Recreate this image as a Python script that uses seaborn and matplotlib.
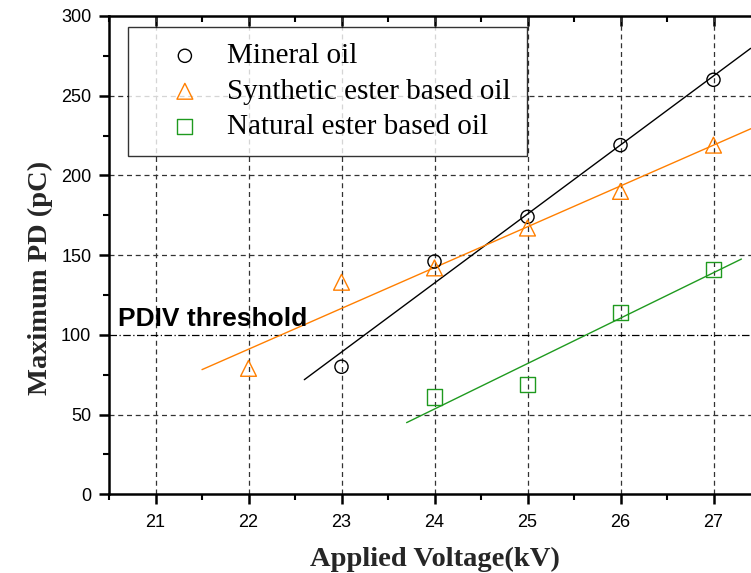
import numpy as np
import pandas as pd
import matplotlib
matplotlib.use("Agg")
import matplotlib.pyplot as plt
import seaborn as sns
from matplotlib.ticker import MultipleLocator

# ---- data ----
mineral_x = [23, 24, 25, 26, 27]
mineral_y = [80, 146, 174, 219, 260]
synthetic_x = [22, 23, 24, 25, 26, 27]
synthetic_y = [79, 133, 142, 167, 190, 219]
natural_x = [24, 25, 26, 27]
natural_y = [61, 69, 114, 141]
series_names = ["Mineral oil", "Synthetic ester based oil", "Natural ester based oil"]
x_ticks = [21, 22, 23, 24, 25, 26, 27]
y_ticks = [0, 50, 100, 150, 200, 250, 300]
pdiv_threshold = 100

colors = ["black", "#FF7F00", "#1F9A1F"]
markers = ["o", "^", "s"]
marker_sizes = [90, 130, 120]

sns.set_theme(style="white")
plt.rcParams["font.family"] = ["Liberation Sans", "DejaVu Sans"]

fig = plt.figure(figsize=(7.51, 5.73), dpi=100)
ax = fig.add_axes([109 / 751, (573 - 494.3) / 573, 7 * 93 / 751, (494.3 - 16) / 573])

series = [(mineral_x, mineral_y), (synthetic_x, synthetic_y), (natural_x, natural_y)]
for (xs, ys), name, c, m, ms in zip(series, series_names, colors, markers, marker_sizes):
    df = pd.DataFrame({"x": xs, "y": ys})
    sns.scatterplot(data=df, x="x", y="y", ax=ax, marker=m, s=ms,
                    facecolor="none", edgecolor=c, linewidth=1.0, label=name, zorder=4)
    # linear fit line extended 10% of data range on both ends
    k, b = np.polyfit(xs, ys, 1)
    span = max(xs) - min(xs)
    fx = np.array([min(xs) - 0.1 * span, max(xs) + 0.1 * span])
    fit_df = pd.DataFrame({"x": fx, "y": k * fx + b})
    sns.lineplot(data=fit_df, x="x", y="y", ax=ax, color=c, linewidth=1.0,
                 legend=False, zorder=3)

# PDIV threshold line (dash-dot)
ax.axhline(pdiv_threshold, color="black", linestyle=(0, (6, 2, 1, 2)), linewidth=0.9, zorder=2)

ax.set_xlim(20.5, 27.5)
ax.set_ylim(0, 300)
ax.set_xticks(x_ticks)
ax.set_yticks(y_ticks)
ax.xaxis.set_minor_locator(MultipleLocator(0.5))
ax.yaxis.set_minor_locator(MultipleLocator(25))

# grid
for xv in x_ticks:
    ax.axvline(xv, color="#333333", linestyle=(0, (4, 3)), linewidth=0.9, zorder=1)
for yv in [50, 150, 200, 250]:
    ax.axhline(yv, color="#333333", linestyle=(0, (4, 3)), linewidth=0.9, zorder=1)

for side in ["left", "bottom", "top"]:
    ax.spines[side].set_linewidth(1.8)
    ax.spines[side].set_color("black")
ax.spines["right"].set_visible(False)

ax.tick_params(axis="both", which="major", direction="out", length=7.2, width=1.8,
               labelsize=13, colors="black", pad=5.5)
ax.tick_params(axis="both", which="minor", direction="out", length=4.3, width=1.5, colors="black")
ax.tick_params(axis="x", which="major", pad=7)
ax.tick_params(axis="x", which="both", top=True, bottom=True)
ax.tick_params(axis="y", which="both", left=True)
# top ticks point inward
for t in ax.xaxis.get_major_ticks():
    t.tick2line.set_marker(matplotlib.lines.TICKDOWN)
for t in ax.xaxis.get_minor_ticks():
    t.tick2line.set_marker(matplotlib.lines.TICKDOWN)

serif = ["Liberation Serif", "DejaVu Serif"]
ax.set_xlabel("Applied Voltage(kV)", fontsize=20.5, fontweight="bold",
              family=serif, labelpad=11.5)
ax.set_ylabel("Maximum PD (pC)", fontsize=20.5, fontweight="bold", family=serif)
ax.yaxis.set_label_coords(-0.086, 0.452)

ax.text(20.597, 105.6, "PDIV threshold", fontsize=19, fontweight="bold",
        ha="left", va="baseline", color="black")

leg = ax.legend(loc="upper left", bbox_to_anchor=(19 / 651, 1 - 11 / 478.3),
                prop={"family": "Liberation Serif", "size": 21},
                frameon=True, fancybox=False, edgecolor="black",
                borderpad=0.55, labelspacing=0.31, handletextpad=0.05, borderaxespad=0,
                markerscale=1.0, handlelength=2.8)
leg.get_frame().set_linewidth(1.0)
for t in leg.get_texts():
    t.set_color("black")

fig.savefig("out.png", dpi=100)
